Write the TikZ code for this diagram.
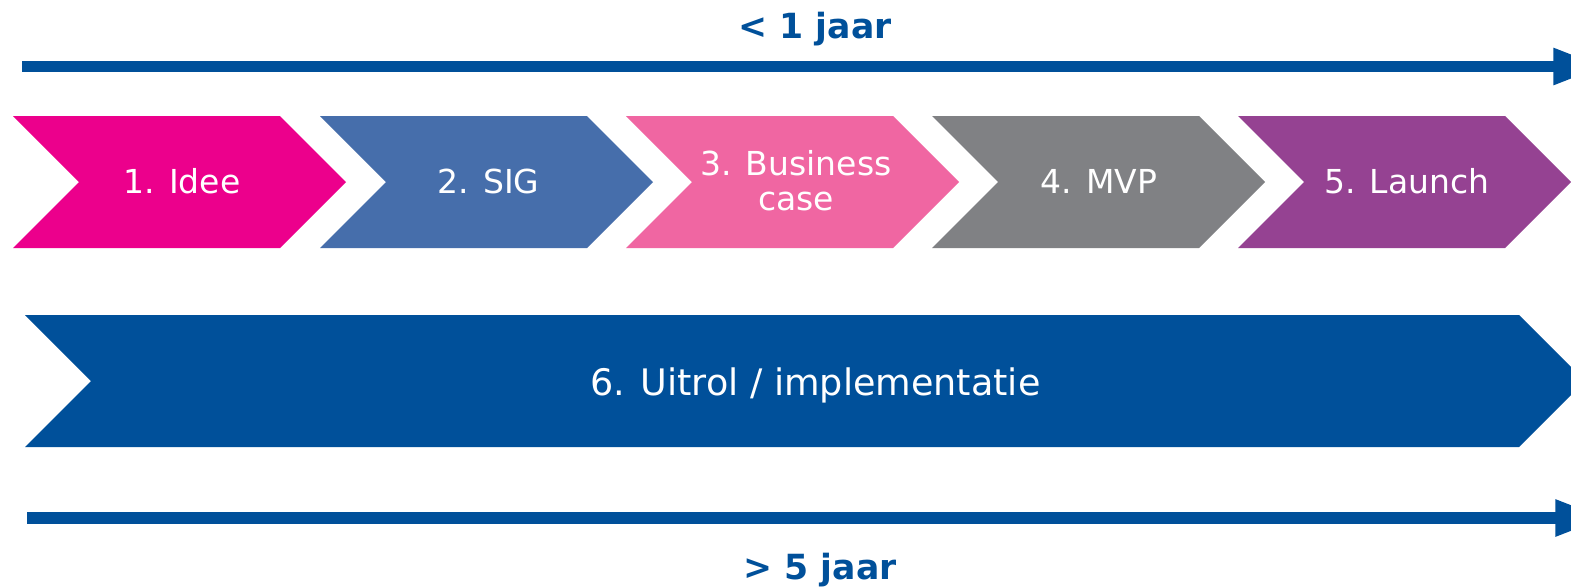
\documentclass[tikz,border=0pt]{standalone}
\usepackage{fontspec}
\setmainfont{DejaVu Sans}
\usetikzlibrary{arrows.meta}
\definecolor{cPink}{HTML}{EC008C}
\definecolor{cBlue}{HTML}{466EAB}
\definecolor{cRose}{HTML}{F066A2}
\definecolor{cGray}{HTML}{808184}
\definecolor{cPurple}{HTML}{954292}
\definecolor{cDark}{HTML}{00509A}
\newcommand\mychev[6]{% left, top, bottom, corner, depth, colour
  \fill[#6] (#1,#2) -- (#4,#2) -- ({#4+#5},{(#2+#3)/2}) -- (#4,#3) -- (#1,#3) -- ({#1+#5},{(#2+#3)/2}) -- cycle;}
\begin{document}
\begin{tikzpicture}[x=0.75pt,y=-0.75pt,
  lbl/.style={text=white,inner sep=0pt,anchor=base,font=\fontsize{24.75pt}{26.25pt}\selectfont,align=center},
  biglbl/.style={text=white,inner sep=0pt,anchor=base,font=\fontsize{27.4pt}{30pt}\selectfont},
  timelbl/.style={text=cDark,inner sep=0pt,anchor=base,font=\fontsize{26pt}{27pt}\selectfont\bfseries},
  timeline/.style={draw=cDark,line width=8.5pt,-{Triangle[length=38pt,width=25.5pt]}}]
\clip (0,0) rectangle (1571,587);
\fill[white] (0,0) rectangle (1571,587);
% top timeline
\coordinate (ta) at (22,66.5);
\coordinate (tb) at (1604,66.5);
\draw[timeline] (ta) -- (tb);
\node[timelbl] (tl) at (815,38) {< 1 jaar};
% chevrons row
\mychev{13}{116}{248}{280}{66}{cPink}
\mychev{320}{116}{248}{587}{66}{cBlue}
\mychev{626}{116}{248}{893}{66}{cRose}
\mychev{932}{116}{248}{1199}{66}{cGray}
\mychev{1238}{116}{248}{1505}{66}{cPurple}
\node[lbl] (c1) at (182,193) {1. Idee};
\node[lbl] (c2) at (488.5,193) {2. SIG};
\node[lbl] (c3) at (796,210) {3. Business\\case};
\node[lbl] (c4) at (1099,193) {4. MVP};
\node[lbl] (c5) at (1407,193) {5. Launch};
% big chevron
\mychev{25}{315}{447}{1519}{66}{cDark}
\node[biglbl] (c6) at (815.5,395) {6. Uitrol / implementatie};
% bottom timeline
\coordinate (ba) at (27,518);
\coordinate (bb) at (1606,518);
\draw[timeline] (ba) -- (bb);
\node[timelbl] (bl) at (820,579) {> 5 jaar};
\end{tikzpicture}
\end{document}
